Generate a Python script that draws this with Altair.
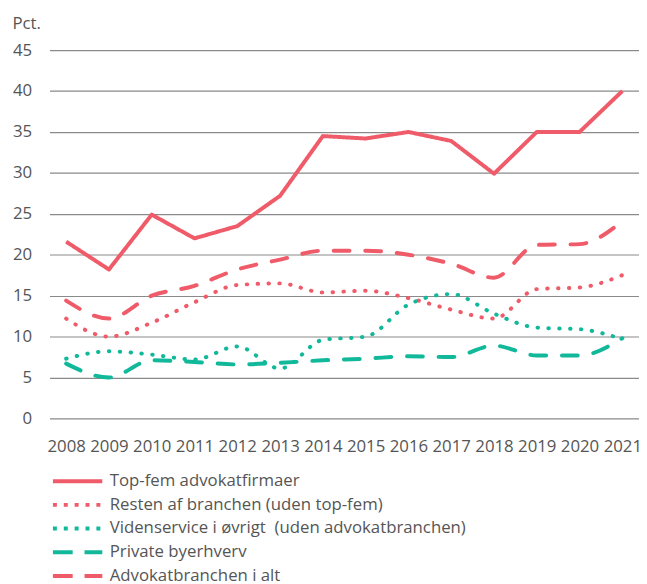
import altair as alt
import pandas as pd

years = list(range(2008, 2022))
series_names = [
    "Top-fem advokatfirmaer",
    "Resten af branchen (uden top-fem)",
    "Videnservice i øvrigt\u00a0 (uden advokatbranchen)",
    "Private byerhverv",
    "Advokatbranchen i alt",
]
top_fem = [21.6, 18.2, 24.9, 22.0, 23.5, 27.2, 34.5, 34.2, 35.0, 33.9, 29.9, 35.0, 35.0, 40.0]
resten = [12.2, 10.0, 11.7, 14.2, 16.3, 16.5, 15.4, 15.6, 14.7, 13.3, 12.2, 15.8, 16.0, 17.5]
videnservice = [7.3, 8.2, 7.8, 7.2, 8.8, 6.1, 9.6, 10.0, 13.9, 15.2, 12.8, 11.1, 10.9, 9.7]
private = [6.7, 5.0, 7.1, 6.9, 6.6, 6.8, 7.1, 7.3, 7.6, 7.5, 8.9, 7.7, 7.7, 9.8]
advokat_alt = [14.4, 12.2, 15.0, 16.2, 18.2, 19.4, 20.5, 20.5, 20.0, 18.9, 17.2, 21.2, 21.3, 24.1]

colors = ["#EF5B69", "#EF5B69", "#12B89A", "#12B89A", "#EF5B69"]
line_dashes = [[1, 0], [0.5, 10.5], [0.5, 10.5], [16, 16], [16, 16]]
legend_dashes = [[1, 0], [4, 7], [4, 7], [20, 12], [20, 12]]
y_ticks = [0, 5, 10, 15, 20, 25, 30, 35, 40, 45]

all_values = [top_fem, resten, videnservice, private, advokat_alt]
rows = []
for name, vals in zip(series_names, all_values):
    for yr, v in zip(years, vals):
        rows.append({"year": str(yr), "serie": name, "value": v})
df = pd.DataFrame(rows)

FONT = "Open Sans"
TXT = "#555555"
FS = 17

legend = alt.Legend(
    title=None,
    orient="none",
    legendX=20,
    legendY=428,
    direction="vertical",
    symbolType="M-5,0H5",
    symbolSize=100,
    symbolStrokeWidth=4,
    symbolOpacity=1,
    labelOffset=24,
    labelFontSize=FS,
    labelFont=FONT,
    labelColor=TXT,
    labelLimit=600,
    rowPadding=6,
    padding=0,
)

x_enc = alt.X(
    "year:O",
    scale=alt.Scale(type="point", padding=0.39),
    axis=alt.Axis(
        title=None, labelAngle=0, domain=False, ticks=False, grid=False,
        labelFontSize=FS, labelFont=FONT, labelColor=TXT, labelPadding=20,
    ),
)
y_enc = alt.Y(
    "value:Q",
    scale=alt.Scale(domain=[0, 45], nice=False),
    axis=alt.Axis(
        values=y_ticks, title="Pct.", titleAngle=0, titleAlign="left",
        titleBaseline="alphabetic", titleX=-38, titleY=-22,
        titleFontSize=FS, titleFont=FONT, titleColor=TXT, titleFontWeight="normal",
        domain=False, ticks=False, grid=True, gridColor="#8a8a8a", gridWidth=1.2,
        labelFontSize=FS, labelFont=FONT, labelColor=TXT, labelPadding=18,
    ),
)

base = alt.Chart(df).encode(
    x=x_enc,
    y=y_enc,
    color=alt.Color("serie:N", scale=alt.Scale(domain=series_names, range=colors), legend=None),
    strokeDash=alt.StrokeDash("serie:N", scale=alt.Scale(domain=series_names, range=line_dashes), legend=None),
    order=alt.Order("year:O"),
)

solid = base.transform_filter(alt.datum.serie == series_names[0]).mark_line(
    strokeWidth=4, interpolate="linear", strokeJoin="round"
)
others = base.transform_filter(alt.datum.serie != series_names[0]).mark_line(
    strokeWidth=4, interpolate="monotone", strokeCap="round"
)

legend_layer = alt.Chart(df).mark_line(opacity=0, strokeWidth=4).encode(
    x=x_enc,
    y=y_enc,
    color=alt.Color("serie:N", scale=alt.Scale(domain=series_names, range=colors), legend=legend),
    strokeDash=alt.StrokeDash("serie:N", scale=alt.Scale(domain=series_names, range=legend_dashes), legend=legend),
)

chart = alt.layer(legend_layer, others, solid).resolve_scale(
    color="independent", strokeDash="independent"
).properties(
    width=597,
    height=373,
    autosize=alt.AutoSizeParams(type="none"),
    padding={"left": 42, "top": 39, "right": 0, "bottom": 164},
).configure_view(stroke=None)

chart.save("out.html", embed_options={"renderer": "svg", "actions": False})
